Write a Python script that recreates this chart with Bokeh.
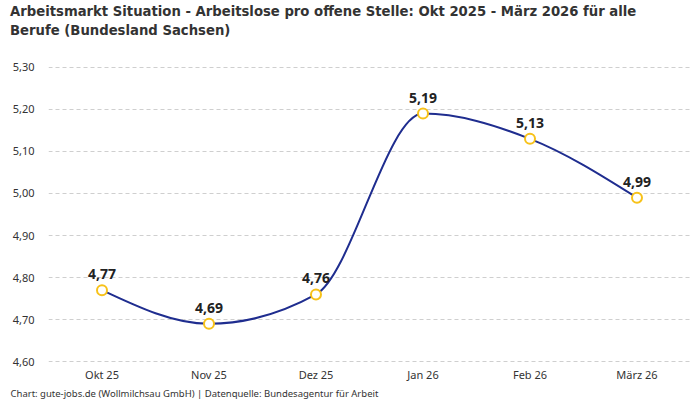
from bokeh.plotting import figure
from bokeh.models import Range1d, FixedTicker, CustomJSTickFormatter, Title, ColumnDataSource, Div
from bokeh.layouts import column
from bokeh.embed import file_html
from bokeh.resources import INLINE

months = ["Okt 25", "Nov 25", "Dez 25", "Jan 26", "Feb 26", "März 26"]
values = [4.77, 4.69, 4.76, 5.19, 5.13, 4.99]
value_labels = ["4,77", "4,69", "4,76", "5,19", "5,13", "4,99"]
y_ticks = [4.6, 4.7, 4.8, 4.9, 5.0, 5.1, 5.2, 5.3]

title_lines = ["Arbeitsmarkt Situation - Arbeitslose pro offene Stelle: Okt 2025 - März 2026 für alle",
               "Berufe (Bundesland Sachsen)"]
footer = "Chart: gute-jobs.de (Wollmilchsau GmbH) | Datenquelle: Bundesagentur für Arbeit"

LINE = "#1f2d8f"
MARK = "#f7c21a"
FONT = "Noto Sans"
TFONT = "'DejaVu Sans Condensed', Roboto, sans-serif"

xs = list(range(len(values)))

# monotone cubic (monotoneX) tangents
n = len(values)
h = 1.0
s = [(values[i + 1] - values[i]) / h for i in range(n - 1)]
m = [0.0] * n
for i in range(1, n - 1):
    s0, s1 = s[i - 1], s[i]
    if s0 * s1 <= 0:
        m[i] = 0.0
    else:
        p_ = (s0 + s1) / 2
        sign = 1 if s0 > 0 else -1
        m[i] = 2 * sign * min(abs(s0), abs(s1), 0.5 * abs(p_))
m[0] = (3 * s[0] - m[1]) / 2
m[-1] = (3 * s[-1] - m[-2]) / 2

bz = dict(x0=[], y0=[], x1=[], y1=[], cx0=[], cy0=[], cx1=[], cy1=[])
for i in range(n - 1):
    bz["x0"].append(xs[i]); bz["y0"].append(values[i])
    bz["x1"].append(xs[i + 1]); bz["y1"].append(values[i + 1])
    bz["cx0"].append(xs[i] + h / 3); bz["cy0"].append(values[i] + m[i] * h / 3)
    bz["cx1"].append(xs[i + 1] - h / 3); bz["cy1"].append(values[i + 1] - m[i + 1] * h / 3)

DIV_H = 46
header = Div(text="<br>".join(title_lines), width=700, height=DIV_H, margin=0,
             styles={"font-family": TFONT, "font-weight": "bold", "font-size": "14.7px",
                     "line-height": "19px", "color": "#333333", "padding-left": "10px",
                     "padding-top": "1px", "white-space": "nowrap"})

p = figure(width=700, height=400 - DIV_H, output_backend="svg", toolbar_location=None,
           x_range=Range1d(-0.5, len(months) - 0.5), y_range=Range1d(4.598, 5.302),
           min_border_left=48, min_border_right=10, min_border_top=66 - DIV_H,
           min_border_bottom=38, margin=0)
p.outline_line_color = None
p.background_fill_color = "white"
p.border_fill_color = "white"
p.title.visible = False

p.xgrid.grid_line_color = None
p.ygrid.grid_line_color = "#cfcfcf"
p.ygrid.grid_line_dash = "4 3"
p.ygrid.grid_line_width = 1

p.xaxis.ticker = FixedTicker(ticks=xs)
p.xaxis.major_label_overrides = {i: lab for i, lab in enumerate(months)}
p.yaxis.ticker = FixedTicker(ticks=y_ticks)
p.yaxis.formatter = CustomJSTickFormatter(code="return tick.toFixed(2).replace('.', ',');")
for ax in (p.xaxis, p.yaxis):
    ax.axis_line_color = None
    ax.major_tick_line_color = None
    ax.minor_tick_line_color = None
    ax.major_tick_out = 0
    ax.major_tick_in = 0
    ax.minor_tick_out = 0
    ax.major_label_text_font = FONT
    ax.major_label_text_font_size = "11px"
    ax.major_label_text_color = "#333333"
p.xaxis.major_label_standoff = 4
p.yaxis.major_label_standoff = 14

p.bezier(x0="x0", y0="y0", x1="x1", y1="y1", cx0="cx0", cy0="cy0", cx1="cx1", cy1="cy1",
         source=ColumnDataSource(bz), line_color=LINE, line_width=2)

src = ColumnDataSource(dict(x=xs, y=values, lab=value_labels))
p.scatter("x", "y", source=src, size=10, fill_color="white", line_color=MARK, line_width=2)
p.text("x", "y", text="lab", source=src, text_align="center", text_baseline="alphabetic",
       y_offset=-16, text_font={"value": FONT}, text_font_size="14px",
       text_font_style="bold", text_color="#222222")

p.add_layout(Title(text=footer, align="left", offset=-38, standoff=0,
                   text_font=FONT, text_font_style="normal", text_font_size="9.5px",
                   text_color="#333333"), "below")

layout = column(header, p, spacing=0)
open("out.html", "w").write(file_html(layout, INLINE))
